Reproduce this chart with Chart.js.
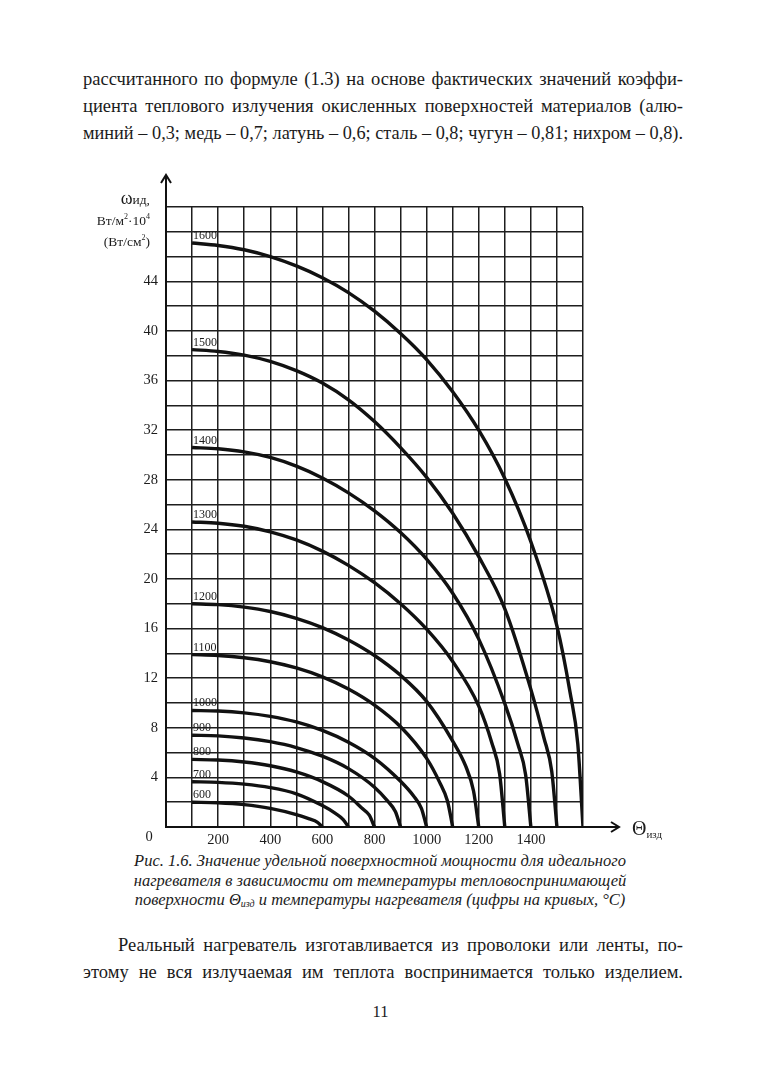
<!DOCTYPE html>
<html lang="ru">
<head>
<meta charset="utf-8">
<title>Рис. 1.6</title>
<script src="https://cdn.jsdelivr.net/npm/chart.js@4.4.1/dist/chart.umd.min.js"></script>
<style>
  html, body { margin: 0; padding: 0; background: #fff; }
  body {
    width: 761px; height: 1080px; position: relative; overflow: hidden;
    font-family: "Liberation Serif", "Times New Roman", "DejaVu Serif", serif; color: #1b1b1b;
  }
  .para { position: absolute; left: 83px; width: 600px; font-size: 18.5px; line-height: 27px; }
  .para div { text-align: justify; text-align-last: justify; }
  .indent { text-indent: 35px; }
  #chart-box { position: absolute; left: 0; top: 150px; width: 761px; height: 700px; }
  .ytitle { position: absolute; right: 611px; top: 190px; text-align: right; font-size: 13.5px; line-height: 17px; z-index: 2; }
  .ytitle .om { font-size: 18px; }
  .ytitle sup { font-size: 8px; }
  .xtitle { position: absolute; left: 632px; top: 817px; font-size: 20px; z-index: 2; }
  .xtitle sub { font-size: 11px; vertical-align: -3px; }
  .caption { position: absolute; left: 60px; width: 640px; top: 851px; font-size: 16.5px; line-height: 19.5px; font-style: italic; text-align: center; }
  .caption sub { font-size: 10px; vertical-align: -2px; }
  .pagenum { position: absolute; left: 0; width: 761px; top: 1002px; text-align: center; font-size: 16.5px; }
</style>
</head>
<body>

<div class="para" style="top:66px">
  <div>рассчитанного по формуле (1.3) на основе фактических значений коэффи-</div>
  <div>циента теплового излучения окисленных поверхностей материалов (алю-</div>
  <div>миний – 0,3; медь – 0,7; латунь – 0,6; сталь – 0,8; чугун – 0,81; нихром – 0,8).</div>
</div>

<div class="ytitle">
  <div><span class="om">ω</span>ид,</div>
  <div>Вт/м<sup>2</sup>·10<sup>4</sup></div>
  <div>(Вт/см<sup>2</sup>)</div>
</div>
<div class="xtitle">Θ<sub>изд</sub></div>

<div id="chart-box"><canvas id="chart" width="761" height="700"></canvas></div>

<div class="caption">
  Рис. 1.6. Значение удельной поверхностной мощности для идеального<br>
  нагревателя в зависимости от температуры тепловоспринимающей<br>
  поверхности Θ<sub>изд</sub> и температуры нагревателя (цифры на кривых, °C)
</div>

<div class="para" style="top:932px">
  <div class="indent">Реальный нагреватель изготавливается из проволоки или ленты, по-</div>
  <div>этому не вся излучаемая им теплота воспринимается только изделием.</div>
</div>

<div class="pagenum">11</div>

<script>
// Температуры нагревателя (цифры на кривых), °C
const heaterTemps = [600, 700, 800, 900, 1000, 1100, 1200, 1300, 1400, 1500, 1600];

const th600 = [100, 200, 300, 400, 500, 550, 580, 600];
const w600 = [2.0, 1.95, 1.8, 1.5, 1.0, 0.65, 0.4, 0];

const th700 = [100, 200, 300, 400, 500, 600, 650, 680, 700];
const w700 = [3.65, 3.6, 3.46, 3.18, 2.68, 1.73, 1.1, 0.6, 0];

const th800 = [100, 200, 300, 400, 500, 600, 700, 750, 780, 800];
const w800 = [5.45, 5.4, 5.24, 4.94, 4.44, 3.66, 2.5, 1.55, 0.95, 0];

const th900 = [100, 200, 300, 400, 500, 600, 700, 800, 850, 880, 900];
const w900 = [7.4, 7.35, 7.18, 6.88, 6.41, 5.71, 4.71, 3.21, 2.1, 1.25, 0];

const th1000 = [100, 200, 300, 400, 500, 600, 700, 800, 900, 950, 980, 1000];
const w1000 = [9.4, 9.35, 9.2, 8.92, 8.47, 7.79, 6.84, 5.54, 3.69, 2.5, 1.5, 0];

const th1100 = [100, 200, 300, 400, 500, 600, 700, 800, 900, 1000, 1050, 1080, 1100];
const w1100 = [13.9, 13.83, 13.65, 13.33, 12.83, 12.11, 11.13, 9.83, 8.08, 5.53, 3.6, 2.1, 0];

const th1200 = [100, 200, 300, 400, 500, 600, 700, 800, 900, 1000, 1100, 1150, 1180, 1200];
const w1200 = [18.0, 17.93, 17.73, 17.38, 16.83, 16.08, 15.08, 13.83, 12.23, 10.13, 6.93, 4.9, 2.9, 0];

const th1300 = [100, 200, 300, 400, 500, 600, 700, 800, 900, 1000, 1100, 1200, 1250, 1280, 1300];
const w1300 = [24.6, 24.5, 24.25, 23.8, 23.15, 22.25, 21.1, 19.7, 18.0, 15.95, 13.35, 9.75, 6.8, 4.3, 0];

const th1400 = [100, 200, 300, 400, 500, 600, 700, 800, 900, 1000, 1100, 1200, 1300, 1350, 1380, 1400];
const w1400 = [30.6, 30.5, 30.25, 29.8, 29.1, 28.15, 26.95, 25.5, 23.75, 21.6, 18.85, 15.15, 9.95, 6.7, 4.2, 0];

const th1500 = [100, 200, 300, 400, 500, 600, 700, 800, 900, 1000, 1100, 1200, 1300, 1400, 1450, 1480, 1500];
const w1500 = [38.5, 38.35, 38.05, 37.55, 36.8, 35.8, 34.45, 32.7, 30.6, 28.2, 25.3, 21.8, 17.6, 11.1, 7.2, 4.5, 0];

const th1600 = [100, 200, 300, 400, 500, 600, 700, 800, 900, 1000, 1100, 1200, 1300, 1400, 1500, 1550, 1580, 1600];
const w1600 = [47.1, 46.9, 46.55, 46.0, 45.25, 44.3, 43.1, 41.6, 39.8, 37.7, 35.1, 32.0, 28.1, 23.0, 16.2, 10.9, 6.7, 0];

const thetaSets = [th600, th700, th800, th900, th1000, th1100, th1200, th1300, th1400, th1500, th1600];
const omegaSets = [w600, w700, w800, w900, w1000, w1100, w1200, w1300, w1400, w1500, w1600];

// Подписи осей
const xTickLabels = [200, 400, 600, 800, 1000, 1200, 1400];
const yTickLabels = [4, 8, 12, 16, 20, 24, 28, 32, 36, 40, 44];

// Выбираем шрифт с засечками, в котором точно есть кириллица
function pickSerif() {
  const candidates = ["Liberation Serif", "Tinos", "Times New Roman", "Noto Serif", "DejaVu Serif", "FreeSerif"];
  const c = document.createElement("canvas").getContext("2d");
  const probe = "рассчитанного ЗНАЧЕНИЕ удельной";
  for (const f of candidates) {
    c.font = `40px "${f}", monospace`;
    const a = c.measureText(probe).width;
    c.font = `40px "${f}", sans-serif`;
    const b = c.measureText(probe).width;
    if (Math.abs(a - b) < 0.01) return f;
  }
  return "serif";
}
const serif = pickSerif();
document.body.style.fontFamily = `"${serif}", serif`;

// Строки абзацев не должны переноситься
document.querySelectorAll(".para div").forEach((line) => {
  let fs = 18.5;
  while (line.offsetHeight > 30 && fs > 14) {
    fs -= 0.25;
    line.style.fontSize = fs + "px";
  }
});

const ink = "#1b1b1b";
Chart.defaults.font.family = `"${serif}", serif`;
Chart.defaults.color = ink;

// Подписи кривых, стрелки осей и «0» в углу
const extras = {
  id: "extras",
  afterDatasetsDraw(chart) {
    const { ctx, chartArea, scales } = chart;
    const x = scales.x, y = scales.y;
    ctx.save();
    ctx.fillStyle = ink;
    ctx.font = `12px "${serif}"`;
    ctx.textAlign = "left";
    ctx.textBaseline = "alphabetic";
    chart.data.datasets.forEach((ds) => {
      const p = ds.data[0];
      ctx.fillText(ds.label, x.getPixelForValue(p.x) + 1, y.getPixelForValue(p.y) - 4);
    });

    ctx.strokeStyle = "#111";
    ctx.lineWidth = 2;
    const left = chartArea.left, bottom = chartArea.bottom;
    const yTip = chartArea.top - 32, xTip = chartArea.right + 36;
    ctx.beginPath();
    ctx.moveTo(left, chartArea.top);
    ctx.lineTo(left, yTip);
    ctx.moveTo(left - 5, yTip + 8);
    ctx.lineTo(left, yTip);
    ctx.lineTo(left + 5, yTip + 8);
    ctx.moveTo(chartArea.right, bottom);
    ctx.lineTo(xTip, bottom);
    ctx.moveTo(xTip - 8, bottom - 5);
    ctx.lineTo(xTip, bottom);
    ctx.lineTo(xTip - 8, bottom + 5);
    ctx.stroke();

    ctx.font = `14.5px "${serif}"`;
    ctx.textAlign = "center";
    ctx.textBaseline = "middle";
    ctx.fillText("0", x.getPixelForValue(0) - 17, bottom + 10);
    ctx.restore();
  },
};

const datasets = heaterTemps.map((t, i) => ({
  label: String(t),
  data: thetaSets[i].map((th, j) => ({ x: th, y: omegaSets[i][j] })),
  borderColor: "#111",
  borderWidth: 3.4,
  pointRadius: 0,
  fill: false,
  cubicInterpolationMode: "monotone",
}));

new Chart(document.getElementById("chart").getContext("2d"), {
  type: "line",
  data: { datasets: datasets },
  plugins: [extras],
  options: {
    responsive: false,
    animation: false,
    layout: { padding: { left: 130, right: 178, top: 57, bottom: 5 } },
    plugins: { legend: { display: false }, tooltip: { enabled: false } },
    scales: {
      x: {
        type: "linear",
        min: 0,
        max: 1600,
        afterFit: (scale) => { scale.height = 18; },
        ticks: {
          stepSize: 100,
          maxTicksLimit: 40,
          autoSkip: false,
          maxRotation: 0,
          padding: 4,
          font: { size: 14.5 },
          callback: (v) => (xTickLabels.includes(v) ? String(v) : ""),
        },
        grid: { color: "#1e1e1e", lineWidth: 1.5, drawTicks: false },
        border: { color: "#111", width: 2 },
      },
      y: {
        type: "linear",
        min: 0,
        max: 50,
        afterFit: (scale) => { scale.width = 36; },
        ticks: {
          stepSize: 2,
          maxTicksLimit: 40,
          autoSkip: false,
          padding: 8,
          font: { size: 14.5 },
          callback: (v) => (yTickLabels.includes(v) ? String(v) : ""),
        },
        grid: { color: "#1e1e1e", lineWidth: 1.5, drawTicks: false },
        border: { color: "#111", width: 2 },
      },
    },
  },
});
</script>
</body>
</html>
